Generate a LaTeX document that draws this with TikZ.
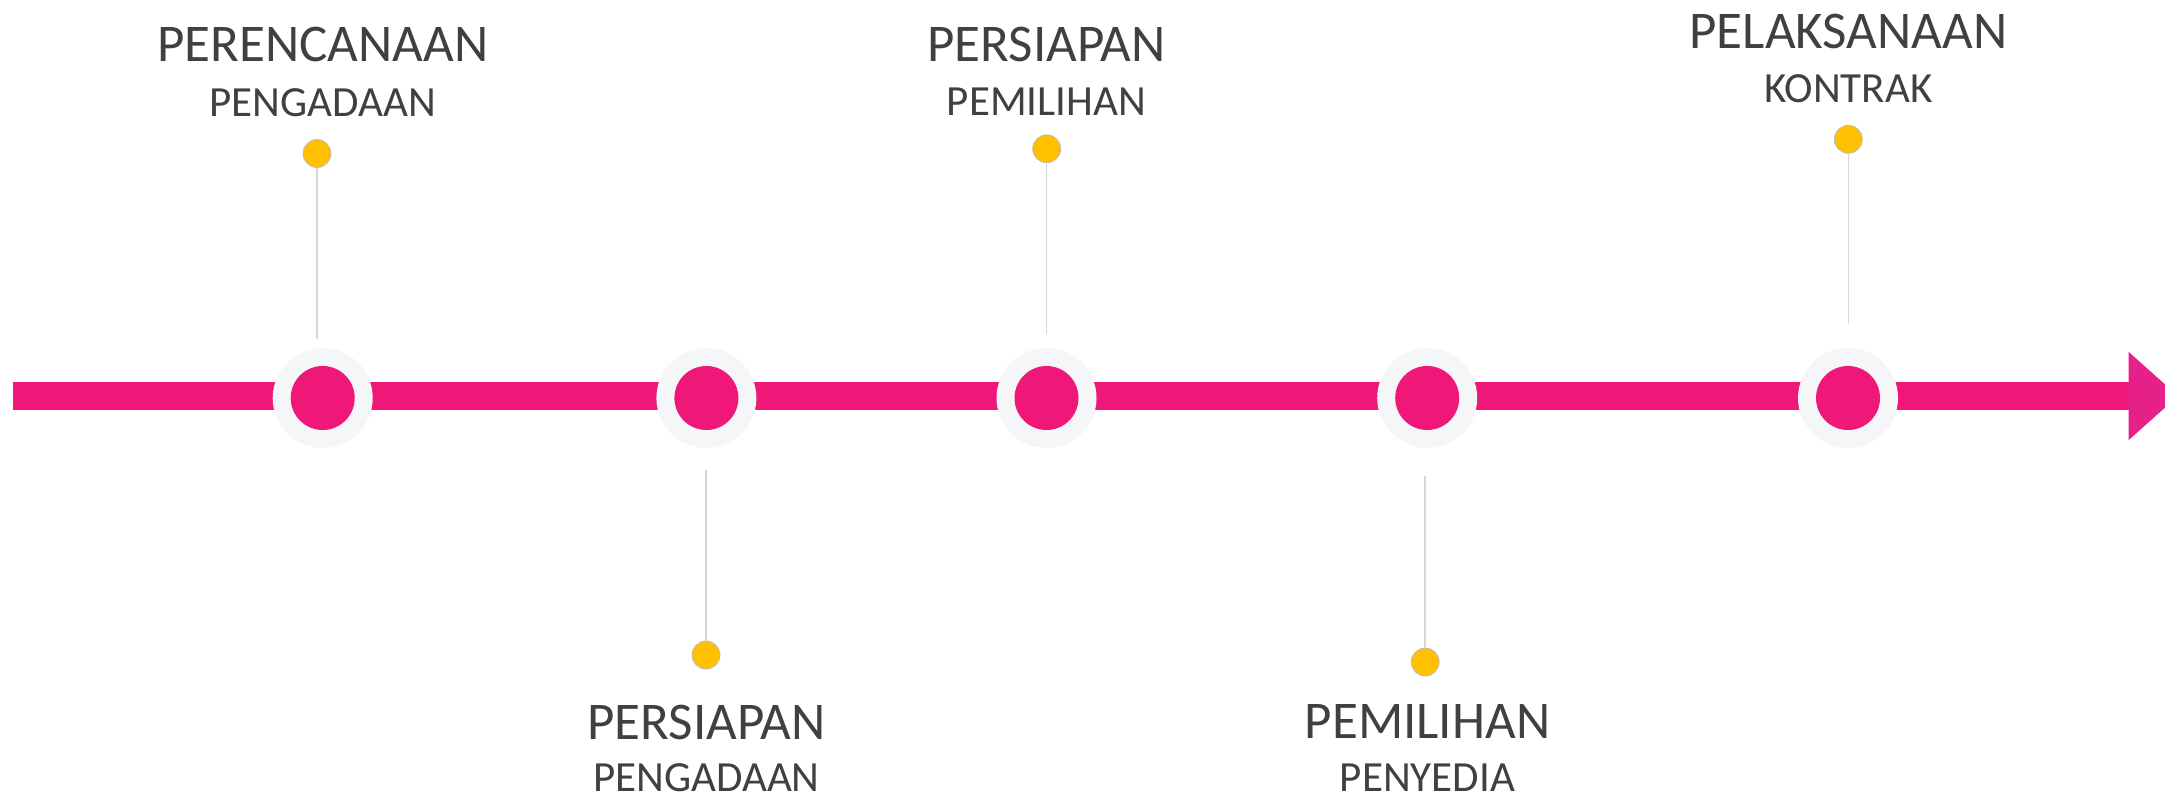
\documentclass[tikz,border=0pt]{standalone}
\usepackage{fontspec}
\setmainfont{Carlito}
\definecolor{barpink}{RGB}{239,23,120}
\definecolor{headpink}{RGB}{229,32,136}
\definecolor{ringgray}{RGB}{245,246,248}
\definecolor{dotyellow}{RGB}{255,192,0}
\definecolor{dotedge}{RGB}{190,190,190}
\definecolor{stemgray}{RGB}{215,215,215}
\definecolor{txtgray}{RGB}{64,64,64}
\tikzset{
  ring/.style={circle,fill=ringgray,minimum size=100pt,inner sep=0pt},
  core/.style={circle,fill=barpink,minimum size=64pt,inner sep=0pt},
  pin/.style={circle,fill=dotyellow,draw=dotedge,line width=0.8pt,minimum size=28pt,inner sep=0pt},
  stem/.style={draw=stemgray,line width=1.5pt},
  bigtxt/.style={anchor=base,inner sep=0pt,text depth=0pt,text=txtgray,font=\fontsize{53}{53}\selectfont},
  smalltxt/.style={anchor=base,inner sep=0pt,text depth=0pt,text=txtgray,font=\fontsize{43}{43}\selectfont},
}
\begin{document}
\begin{tikzpicture}[x=1pt,y=-1pt]
\useasboundingbox (0,0) rectangle (2165,797);
\clip (0,0) rectangle (2165,797);
% main bar
\coordinate (barstart) at (13,396);
\coordinate (barend) at (2129,396);
\draw[barpink,line width=28pt] (barstart) -- (barend);
\fill[headpink] (2128.7,352) -- (2178,396) -- (2128.7,440) -- cycle;
% milestone rings
\node[ring] (r1) at (322.7,398) {};
\node[ring] (r2) at (706.4,398) {};
\node[ring] (r3) at (1046.5,398) {};
\node[ring] (r4) at (1427.2,398) {};
\node[ring] (r5) at (1848,398) {};
\node[core] (c1) at (r1) {};
\node[core] (c2) at (r2) {};
\node[core] (c3) at (r3) {};
\node[core] (c4) at (r4) {};
\node[core] (c5) at (r5) {};
% pins
\node[pin] (p1) at (317,153.5) {};
\node[pin] (p2) at (706,655) {};
\node[pin] (p3) at (1046.7,148.8) {};
\node[pin] (p4) at (1425.2,662) {};
\node[pin] (p5) at (1848.3,139.3) {};
\coordinate (s1) at (317,339);
\coordinate (s2) at (706,470);
\coordinate (s3) at (1046.7,334);
\coordinate (s4) at (1425.2,476);
\coordinate (s5) at (1848.3,324);
\draw[stem] (p1.south) -- (s1);
\draw[stem] (p2.north) -- (s2);
\draw[stem] (p3.south) -- (s3);
\draw[stem] (p4.north) -- (s4);
\draw[stem] (p5.south) -- (s5);
% labels
\node[bigtxt] (t1a) at (322.8,61.7) {PERENCANAAN};
\node[smalltxt] (t1b) at (322.8,116.7) {PENGADAAN};
\node[bigtxt] (t3a) at (1046.5,61.7) {PERSIAPAN};
\node[smalltxt] (t3b) at (1046.5,116) {PEMILIHAN};
\node[bigtxt] (t5a) at (1848.3,48.5) {PELAKSANAAN};
\node[smalltxt] (t5b) at (1848.3,102.7) {KONTRAK};
\node[bigtxt] (t2a) at (706.4,739) {PERSIAPAN};
\node[smalltxt] (t2b) at (706.4,791) {PENGADAAN};
\node[bigtxt] (t4a) at (1427.5,738.5) {PEMILIHAN};
\node[smalltxt] (t4b) at (1427.5,791) {PENYEDIA};
\end{tikzpicture}
\end{document}
